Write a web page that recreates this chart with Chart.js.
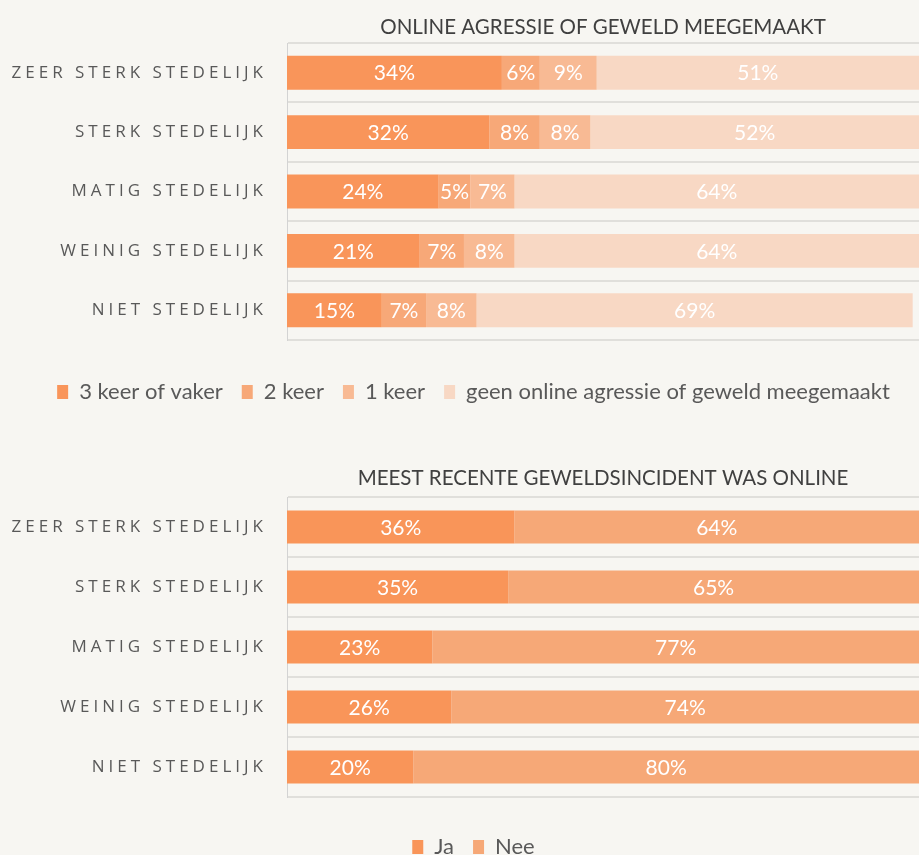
<!DOCTYPE html>
<html>
<head>
<meta charset="utf-8">
<script src="https://cdn.jsdelivr.net/npm/chart.js@4"></script>
<style>
  html, body { margin: 0; background: #F7F6F2; overflow: hidden; }
  #wrap { position: relative; width: 919px; height: 855px; }
  .box { position: absolute; left: 0; width: 919px; }
</style>
</head>
<body>
<div id="wrap">
  <div class="box" style="top:0;height:430px"><canvas id="topChart"></canvas></div>
  <div class="box" style="top:430px;height:440px"><canvas id="bottomChart"></canvas></div>
</div>
<script>
var categories = ['ZEER STERK STEDELIJK', 'STERK STEDELIJK', 'MATIG STEDELIJK', 'WEINIG STEDELIJK', 'NIET STEDELIJK'];

// online agressie of geweld meegemaakt (%)
var threeOrMore = [34, 32, 24, 21, 15];
var twice = [6, 8, 5, 7, 7];
var once = [9, 8, 7, 8, 8];
var never = [51, 52, 64, 64, 69];

// meest recente geweldsincident was online (%)
var ja = [36, 35, 23, 26, 20];
var nee = [64, 65, 77, 74, 80];

// title, category labels (letter spaced) and the white values in the bars
var decor = {
    id: 'decor',
    afterDraw: function(chart) {
        var ctx = chart.ctx;
        var area = chart.chartArea;
        var yScale = chart.scales.y;
        var opts = chart.options.plugins.decor;
        ctx.save();
        ctx.textBaseline = 'middle';

        ctx.font = '20.5px Lato';
        ctx.fillStyle = '#404040';
        ctx.textAlign = 'center';
        ctx.fillText(opts.title, (area.left + area.right) / 2, opts.titleY);

        ctx.letterSpacing = '4px';
        ctx.font = '17px "Open Sans"';
        ctx.fillStyle = '#595959';
        ctx.textAlign = 'right';
        chart.data.labels.forEach(function(label, i) {
            ctx.fillText(label, area.left - 20, yScale.getPixelForValue(i));
        });
        ctx.letterSpacing = '0px';

        ctx.font = '21px Lato';
        ctx.fillStyle = '#FFFFFF';
        ctx.textAlign = 'center';
        chart.data.datasets.forEach(function(ds, d) {
            chart.getDatasetMeta(d).data.forEach(function(bar, i) {
                ctx.fillText(ds.data[i] + '%', (bar.x + bar.base) / 2, bar.y + 1);
            });
        });
        ctx.restore();
    }
};

function makeOptions(title, titleY, padTop, padBottom, xHeight, barPct) {
    return {
        indexAxis: 'y',
        responsive: true,
        maintainAspectRatio: false,
        animation: false,
        layout: { padding: { top: padTop, left: 28, right: 0, bottom: padBottom } },
        datasets: { bar: { categoryPercentage: 1, barPercentage: barPct } },
        scales: {
            x: {
                stacked: true,
                min: 0,
                max: 100,
                ticks: { display: false },
                grid: { display: false },
                border: { display: false },
                afterFit: function(scale) { scale.height = xHeight; }
            },
            y: {
                stacked: true,
                ticks: { display: false },
                grid: { offset: true, color: '#E0DFDB', lineWidth: 2, drawTicks: false },
                border: { color: '#D3D3D3', width: 1 },
                afterFit: function(scale) { scale.width = 259; }
            }
        },
        plugins: {
            decor: { title: title, titleY: titleY },
            tooltip: { enabled: false },
            legend: {
                position: 'bottom',
                labels: {
                    boxWidth: 11,
                    boxHeight: 14,
                    padding: 19,
                    color: '#595959',
                    font: { family: 'Lato', size: 22 }
                }
            }
        }
    };
}

document.addEventListener("DOMContentLoaded", function() {
    new Chart(document.getElementById('topChart').getContext('2d'), {
        type: 'bar',
        data: {
            labels: categories,
            datasets: [
                { label: '3 keer of vaker', data: threeOrMore, backgroundColor: '#F9955A' },
                { label: '2 keer', data: twice, backgroundColor: '#F7A878' },
                { label: '1 keer', data: once, backgroundColor: '#F8BA94' },
                { label: 'geen online agressie of geweld meegemaakt', data: never, backgroundColor: '#F8D8C4' }
            ]
        },
        options: makeOptions('ONLINE AGRESSIE OF GEWELD MEEGEMAAKT', 27, 43, 17, 22, 0.57),
        plugins: [decor]
    });

    new Chart(document.getElementById('bottomChart').getContext('2d'), {
        type: 'bar',
        data: {
            labels: categories,
            datasets: [
                { label: 'Ja', data: ja, backgroundColor: '#F99559' },
                { label: 'Nee', data: nee, backgroundColor: '#F6A877' }
            ]
        },
        options: makeOptions('MEEST RECENTE GEWELDSINCIDENT WAS ONLINE', 48, 67, 2, 20, 0.55),
        plugins: [decor]
    });
});
</script>
</body>
</html>
